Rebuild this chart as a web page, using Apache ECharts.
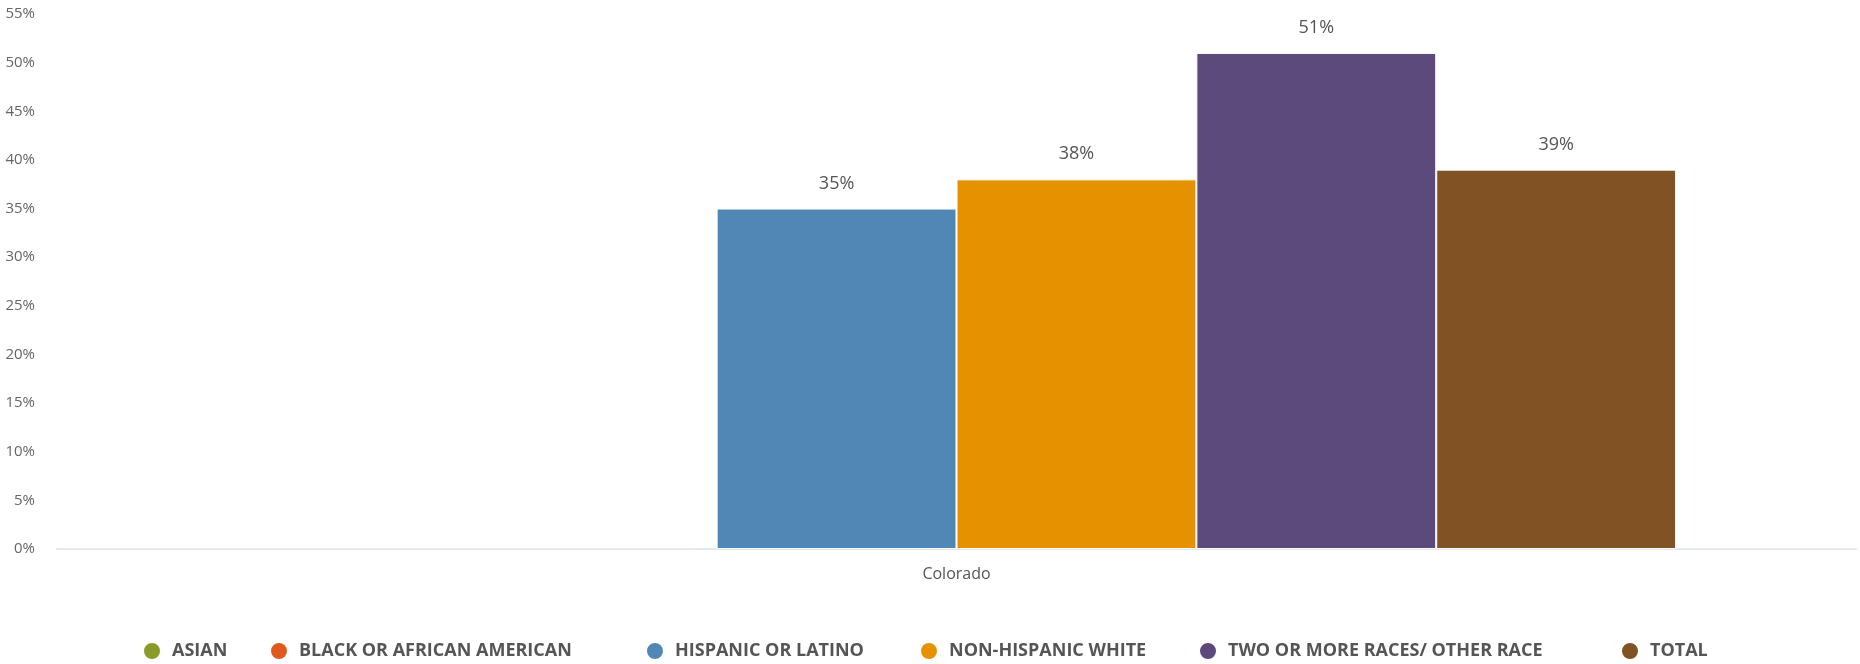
<!DOCTYPE html>
<html>
<head>
<meta charset="utf-8">
<script src="https://cdn.jsdelivr.net/npm/echarts@6/dist/echarts.min.js"></script>
<style>
  html, body { margin: 0; padding: 0; background: #fff; }
  #chart { width: 1860px; height: 664px; }
</style>
</head>
<body>
<div id="chart"></div>
<script>
// data
var categories = ['Colorado']
var seriesNames = ['ASIAN', 'BLACK OR AFRICAN AMERICAN', 'HISPANIC OR LATINO', 'NON-HISPANIC WHITE', 'TWO OR MORE RACES/ OTHER RACE', 'TOTAL']
var seriesValues = [
  [null],
  [null],
  [35],
  [38],
  [51],
  [39]
]
var yTicks = [0, 5, 10, 15, 20, 25, 30, 35, 40, 45, 50, 55]

var colors = ['#8a9b2a', '#e05a1f', '#5087b5', '#e69100', '#5c4a7c', '#805224']
var legendLeft = [142, 269, 645, 919, 1198, 1620]
var font = '"Open Sans", "Noto Sans", sans-serif'

var chart = echarts.init(document.getElementById('chart'))

var series = seriesNames.map(function (name, i) {
  return {
    name: name,
    type: 'bar',
    data: seriesValues[i],
    barGap: 0,
    barCategoryGap: '20%',
    itemStyle: {
      color: colors[i],
      borderColor: '#fff',
      borderWidth: 1
    },
    label: {
      show: true,
      position: 'top',
      distance: 16,
      formatter: '{c}%',
      color: '#555',
      fontFamily: font,
      fontSize: 18
    }
  }
})

var legends = seriesNames.map(function (name, i) {
  return {
    data: [name],
    left: legendLeft[i],
    top: 641,
    padding: 0,
    icon: 'circle',
    itemWidth: 18,
    itemHeight: 18,
    selectedMode: false,
    textStyle: {
      color: '#555',
      fontFamily: font,
      fontWeight: 'bold',
      fontSize: 18,
      padding: [0, 0, 0, 6]
    }
  }
})

var option = {
  color: colors,
  animation: false,
  grid: {
    top: 14,
    left: 57,
    right: 4,
    bottom: 115
  },
  legend: legends,
  xAxis: [{
    type: 'category',
    data: categories,
    axisTick: { show: false },
    axisLine: {
      lineStyle: { color: '#e3e8ee', width: 2 }
    },
    axisLabel: {
      margin: 17,
      color: '#555',
      fontFamily: font,
      fontSize: 16
    }
  }],
  yAxis: [{
    type: 'value',
    min: yTicks[0],
    max: yTicks[yTicks.length - 1],
    interval: 5,
    axisTick: { show: false },
    axisLine: { show: false },
    splitLine: { show: false },
    axisLabel: {
      margin: 22,
      color: '#666',
      fontFamily: font,
      fontSize: 15,
      formatter: '{value}%'
    }
  }],
  series: series
}

chart.setOption(option)
</script>
</body>
</html>
